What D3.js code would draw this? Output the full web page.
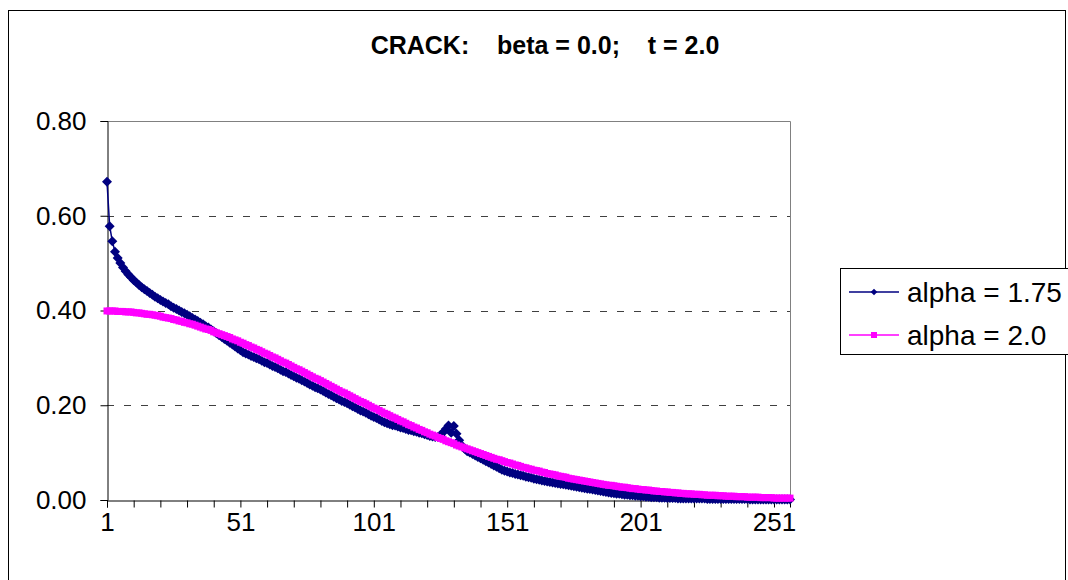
<!DOCTYPE html>
<html>
<head>
<meta charset="utf-8">
<script src="https://cdn.jsdelivr.net/npm/d3@7"></script>
<style>
  body { margin: 0; background: #fff; }
  svg text { font-family: Arial, "Liberation Sans", sans-serif; fill: #000; }
</style>
</head>
<body>
<svg id="vis" width="1068" height="580"></svg>
<script>
// chart text
var title = "CRACK:    beta = 0.0;    t = 2.0";
var seriesNames = ["alpha = 1.75", "alpha = 2.0"];
var seriesColors = ["#000080", "#FF00FF"];

// category axis 1..257, labelled every 50, ticked every 10
var categories = d3.range(1, 258);
var xLabels = [1, 51, 101, 151, 201, 251];
var yTicks = [0, 0.2, 0.4, 0.6, 0.8];
var yGrid = [0.2, 0.4, 0.6];

// alpha = 1.75
var alpha175 = [
  0.672,0.578,0.546,0.524,0.511,0.500,0.491,0.483,0.476,0.470,
  0.464,0.459,0.454,0.449,0.445,0.441,0.437,0.433,0.429,0.426,
  0.422,0.419,0.416,0.413,0.409,0.406,0.403,0.400,0.397,0.394,
  0.391,0.388,0.384,0.381,0.378,0.374,0.371,0.367,0.364,0.360,
  0.356,0.352,0.348,0.344,0.340,0.336,0.332,0.328,0.324,0.320,
  0.316,0.312,0.309,0.307,0.304,0.302,0.299,0.297,0.294,0.291,
  0.289,0.286,0.283,0.281,0.278,0.275,0.272,0.270,0.267,0.264,
  0.261,0.258,0.256,0.253,0.250,0.247,0.244,0.241,0.238,0.236,
  0.233,0.230,0.227,0.224,0.221,0.218,0.215,0.212,0.209,0.207,
  0.204,0.201,0.198,0.195,0.192,0.189,0.187,0.184,0.181,0.178,
  0.175,0.173,0.170,0.167,0.164,0.162,0.160,0.158,0.157,0.155,
  0.153,0.152,0.150,0.148,0.147,0.145,0.144,0.142,0.141,0.139,
  0.137,0.135,0.134,0.133,0.133,0.137,0.143,0.150,0.157,0.142,
  0.156,0.140,0.126,0.115,0.108,0.103,0.100,0.097,0.094,0.091,
  0.088,0.085,0.082,0.079,0.076,0.073,0.070,0.067,0.064,0.062,
  0.060,0.058,0.057,0.055,0.054,0.052,0.051,0.049,0.048,0.047,
  0.045,0.044,0.043,0.041,0.040,0.039,0.038,0.037,0.036,0.035,
  0.034,0.033,0.032,0.031,0.030,0.029,0.028,0.027,0.026,0.025,
  0.024,0.023,0.022,0.021,0.020,0.019,0.018,0.017,0.016,0.015,
  0.014,0.013,0.013,0.012,0.011,0.011,0.010,0.010,0.009,0.009,
  0.008,0.008,0.007,0.007,0.006,0.006,0.006,0.005,0.005,0.005,
  0.004,0.004,0.004,0.004,0.003,0.003,0.003,0.003,0.003,0.003,
  0.003,0.003,0.003,0.003,0.003,0.002,0.002,0.002,0.002,0.002,
  0.002,0.002,0.002,0.002,0.002,0.002,0.002,0.002,0.002,0.002,
  0.002,0.001,0.001,0.001,0.001,0.001,0.001,0.001,0.001,0.001,
  0.001,0.001,0.001,0.001,0.001,0.001,0.001
];

// alpha = 2.0
var alpha20 = [
  0.399,0.399,0.399,0.399,0.398,0.398,0.398,0.397,0.397,0.397,
  0.396,0.395,0.395,0.394,0.393,0.392,0.392,0.391,0.390,0.389,
  0.388,0.386,0.385,0.384,0.383,0.381,0.380,0.378,0.377,0.375,
  0.374,0.372,0.371,0.369,0.367,0.365,0.363,0.361,0.360,0.358,
  0.355,0.353,0.351,0.349,0.347,0.345,0.343,0.340,0.338,0.336,
  0.333,0.331,0.328,0.326,0.323,0.321,0.318,0.316,0.313,0.310,
  0.308,0.305,0.302,0.300,0.297,0.294,0.291,0.289,0.286,0.283,
  0.280,0.277,0.275,0.272,0.269,0.266,0.263,0.260,0.257,0.255,
  0.252,0.249,0.246,0.243,0.240,0.237,0.234,0.231,0.228,0.226,
  0.223,0.220,0.217,0.214,0.211,0.208,0.206,0.203,0.200,0.197,
  0.194,0.192,0.189,0.186,0.183,0.181,0.178,0.175,0.173,0.170,
  0.167,0.165,0.162,0.159,0.157,0.154,0.152,0.149,0.147,0.144,
  0.142,0.139,0.137,0.135,0.132,0.130,0.128,0.125,0.123,0.121,
  0.119,0.116,0.114,0.112,0.110,0.108,0.106,0.104,0.102,0.100,
  0.098,0.096,0.094,0.092,0.090,0.088,0.086,0.085,0.083,0.081,
  0.079,0.078,0.076,0.074,0.073,0.071,0.069,0.068,0.066,0.065,
  0.063,0.062,0.061,0.059,0.058,0.056,0.055,0.054,0.053,0.051,
  0.050,0.049,0.048,0.046,0.045,0.044,0.043,0.042,0.041,0.040,
  0.039,0.038,0.037,0.036,0.035,0.034,0.033,0.032,0.031,0.031,
  0.030,0.029,0.028,0.027,0.027,0.026,0.025,0.024,0.024,0.023,
  0.022,0.022,0.021,0.021,0.020,0.019,0.019,0.018,0.018,0.017,
  0.017,0.016,0.016,0.015,0.015,0.014,0.014,0.013,0.013,0.013,
  0.012,0.012,0.012,0.011,0.011,0.010,0.010,0.010,0.010,0.009,
  0.009,0.009,0.008,0.008,0.008,0.008,0.007,0.007,0.007,0.007,
  0.006,0.006,0.006,0.006,0.006,0.005,0.005,0.005,0.005,0.005,
  0.004,0.004,0.004,0.004,0.004,0.004,0.004
];

var _vis = d3.select("#vis");

// plot area box (pixels)
var PL = 107, PR = 790, PT = 121, PB = 500;

var xScale = d3.scalePoint().domain(categories).range([PL, PR]);
var yScale = d3.scaleLinear().domain([0, 0.8]).range([PB, PT]);

// outer chart border
_vis.append("rect")
    .attr("x", 8.5).attr("y", 10.5)
    .attr("width", 1057).attr("height", 600)
    .attr("fill", "#fff").attr("stroke", "#000").attr("stroke-width", 1);

// title
_vis.append("text")
    .attr("x", 545).attr("y", 54)
    .attr("text-anchor", "middle")
    .attr("xml:space", "preserve")
    .style("white-space", "pre")
    .style("font-weight", "bold")
    .style("font-size", "25px")
    .text(title);

// dashed gridlines
_vis.append("g").selectAll("line")
    .data(yGrid).enter().append("line")
    .attr("x1", PL).attr("x2", PR)
    .attr("y1", d => Math.round(yScale(d)) + 0.5)
    .attr("y2", d => Math.round(yScale(d)) + 0.5)
    .attr("stroke", "#404040")
    .attr("stroke-dasharray", "7,10");

// plot area border (top/right grey)
_vis.append("path")
    .attr("d", "M" + PL + "," + (PT + 0.5) + "H" + (PR + 0.5) + "V" + PB)
    .attr("fill", "none").attr("stroke", "#808080");

// y axis
var yAxis = d3.axisLeft(yScale)
    .tickValues(yTicks)
    .tickSize(7)
    .tickPadding(14)
    .tickFormat(d3.format(".2f"));
var gy = _vis.append("g")
    .attr("transform", "translate(" + (PL + 0.5) + ",0)")
    .call(yAxis);
gy.select(".domain").attr("stroke", "#000");
gy.selectAll(".tick line").attr("stroke", "#000");
gy.selectAll("text").style("font-size", "26px").attr("font-family", null);

// x axis: ticks every 10 categories, labels every 50
var xAxis = d3.axisBottom(xScale)
    .tickValues(categories.filter(c => (c - 1) % 10 === 0))
    .tickSize(7)
    .tickPadding(5)
    .tickFormat(d => xLabels.indexOf(d) >= 0 ? d : "");
var gx = _vis.append("g")
    .attr("transform", "translate(0," + (PB + 0.5) + ")")
    .call(xAxis);
gx.select(".domain").attr("stroke", "#000");
gx.selectAll(".tick line").attr("stroke", "#000");
gx.selectAll("text").style("font-size", "26px").attr("font-family", null);

// series
var series = [alpha175, alpha20];
var symbols = [
    d3.symbol().type(d3.symbolSquare).size(50),
    d3.symbol().type(d3.symbolSquare).size(49)
];
var rotations = [45, 0];

var line = d3.line()
    .x((d, i) => xScale(categories[i]))
    .y(d => yScale(d));

series.forEach(function (values, s) {
    var g = _vis.append("g").attr("class", "series-" + s);
    g.append("path")
        .datum(values)
        .attr("d", line)
        .attr("fill", "none")
        .attr("stroke", seriesColors[s])
        .attr("stroke-width", 1.5);
    g.selectAll("path.marker")
        .data(values).enter().append("path")
        .attr("class", "marker")
        .attr("d", symbols[s])
        .attr("transform", (d, i) => "translate(" + xScale(categories[i]) + "," + yScale(d) + ") rotate(" + rotations[s] + ")")
        .attr("fill", seriesColors[s]);
});

// legend
var legend = _vis.append("g");
legend.append("rect")
    .attr("x", 840.5).attr("y", 268.5)
    .attr("width", 240).attr("height", 86)
    .attr("fill", "#fff").attr("stroke", "#000");

var legendSymbols = [
    d3.symbol().type(d3.symbolSquare).size(22),
    d3.symbol().type(d3.symbolSquare).size(36)
];
seriesNames.forEach(function (name, s) {
    var ly = 292 + s * 43;
    legend.append("line")
        .attr("x1", 849).attr("x2", 899)
        .attr("y1", ly).attr("y2", ly)
        .attr("stroke", seriesColors[s]).attr("stroke-width", 1.5);
    legend.append("path")
        .attr("d", legendSymbols[s])
        .attr("transform", "translate(874," + ly + ") rotate(" + rotations[s] + ")")
        .attr("fill", seriesColors[s]);
    legend.append("text")
        .attr("x", 907).attr("y", ly)
        .attr("dy", "0.35em")
        .style("font-size", "28px")
        .text(name);
});
</script>
</body>
</html>
